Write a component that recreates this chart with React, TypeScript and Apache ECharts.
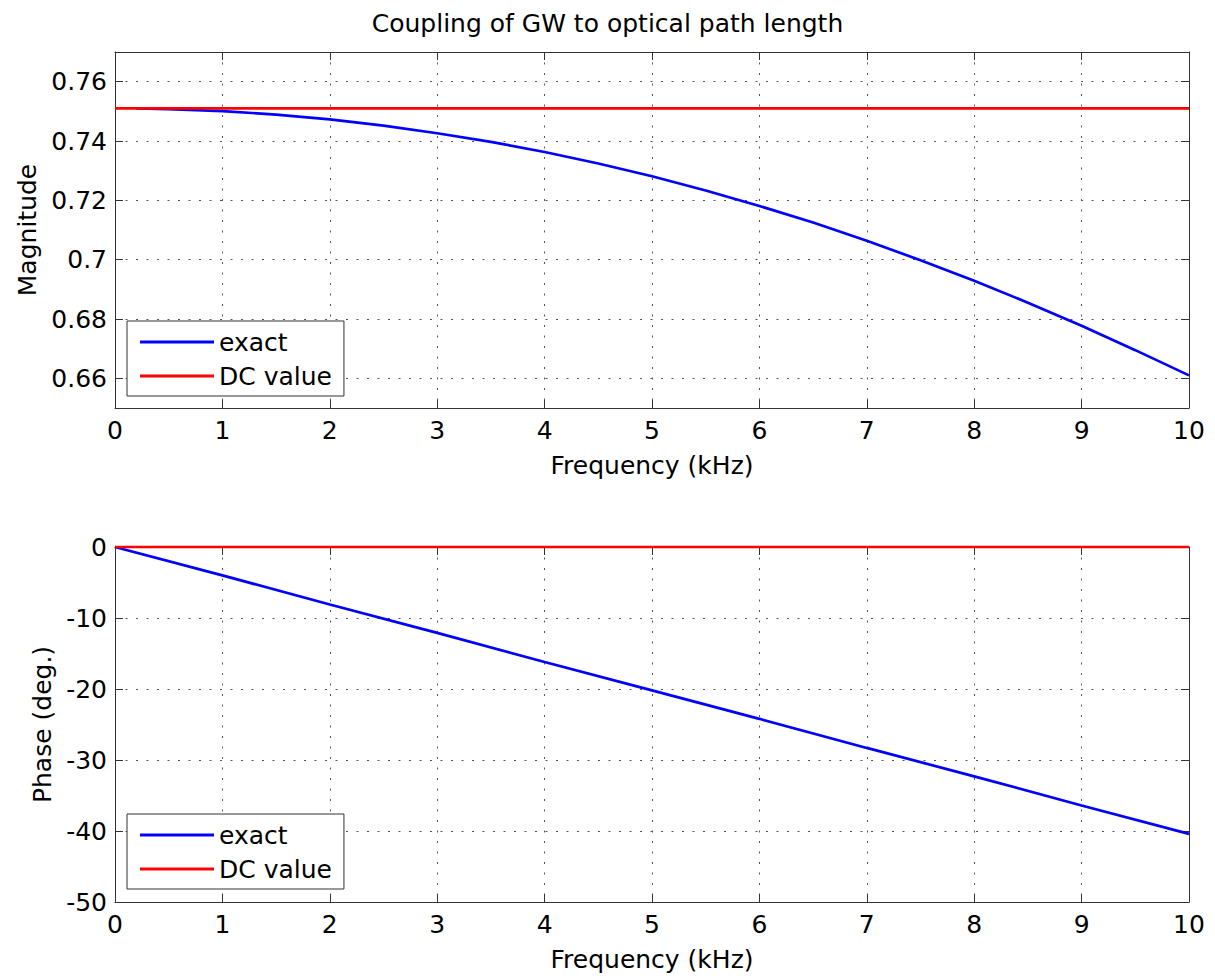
import React, { useEffect, useRef } from 'react';
import * as echarts from 'echarts';

const FONT = 'DejaVu Sans';

const titleText = 'Coupling of GW to optical path length';
const freqLabel = 'Frequency (kHz)';
const magLabel = 'Magnitude';
const phaseLabel = 'Phase (deg.)';
const exactName = 'exact';
const dcName = 'DC value';

// Tick positions
const magTicks = [0.66, 0.68, 0.7, 0.72, 0.74, 0.76];
const phaseTicks = [-50, -40, -30, -20, -10, 0];

// Magnitude of the coupling (exact), sampled in kHz
const magFreq = [0.2, 0.5, 1, 1.5, 2, 2.5, 3, 3.5, 4, 4.5, 5, 5.5, 6, 6.5, 7, 7.5, 8, 8.5, 9, 9.5, 10];
const magExact = [
  0.751, 0.7507, 0.7501, 0.7489, 0.7473, 0.7452, 0.7426, 0.7397, 0.7363, 0.7324, 0.7281,
  0.7233, 0.7181, 0.7125, 0.7064, 0.6998, 0.6929, 0.6855, 0.6777, 0.6695, 0.661,
];

// DC value of the magnitude
const dcFreq = [0, 10];
const magDC = [0.751, 0.751];

// Phase of the coupling (exact), degrees
const phaseFreq = [0, 1, 2, 3, 4, 5, 6, 7, 8, 9, 10];
const phaseExact = [0, -4.0, -8.1, -12.1, -16.2, -20.2, -24.2, -28.3, -32.3, -36.4, -40.4];
const phaseDC = [0, 0];

const pairs = (xs: number[], ys: number[]) => xs.map((x, i) => [x, ys[i]]);

const AXIS_COLOR = '#333';
const GRID_LINE = { show: true, lineStyle: { color: '#555', width: 1, type: [2, 8.5] as number[] } };

function xAxes(gridIndex: number) {
  const base = {
    type: 'value' as const,
    gridIndex,
    min: 0,
    max: 10,
    interval: 1,
    axisLine: { show: true, onZero: false, lineStyle: { color: AXIS_COLOR, width: 1 } },
    axisTick: { show: true, inside: true, length: 8, lineStyle: { color: AXIS_COLOR } },
  };
  return [
    {
      ...base,
      position: 'bottom' as const,
      name: freqLabel,
      nameLocation: 'middle' as const,
      nameGap: 45,
      nameTextStyle: { fontFamily: FONT, fontSize: 25, color: '#000' },
      axisLabel: { show: true, margin: 10, fontFamily: FONT, fontSize: 25, color: '#000' },
      splitLine: GRID_LINE,
    },
    {
      ...base,
      position: 'top' as const,
      axisLabel: { show: false },
      splitLine: { show: false },
    },
  ];
}

function App() {
  const ref = useRef<HTMLDivElement>(null);

  useEffect(() => {
    if (!ref.current) return;
    const chart = echarts.init(ref.current, undefined, { renderer: 'svg' });

    const yLabelStyle = { show: true, margin: 8, fontFamily: FONT, fontSize: 25, color: '#000' };
    const yLine = { show: true, onZero: false, lineStyle: { color: AXIS_COLOR, width: 1 } };
    const yTick = { show: true, inside: true, length: 8, lineStyle: { color: AXIS_COLOR } };

    const legendBase = {
      orient: 'vertical' as const,
      left: 127,
      data: [exactName, dcName],
      icon: 'rect',
      itemWidth: 74,
      itemHeight: 3,
      itemGap: 4,
      padding: [6, 12, 5, 13],
      backgroundColor: '#fff',
      borderColor: '#333',
      borderWidth: 1,
      borderRadius: 0,
      selectedMode: false,
      textStyle: { fontFamily: FONT, fontSize: 25, color: '#000', lineHeight: 30 },
    };

    const lineSeries = (name: string, color: string, data: number[][], xi: number, yi: number) => ({
      type: 'line' as const,
      name,
      data,
      xAxisIndex: xi,
      yAxisIndex: yi,
      symbol: 'none',
      showSymbol: false,
      smooth: false,
      clip: false,
      lineStyle: { color, width: 2.7 },
      itemStyle: { color },
    });

    chart.setOption({
      animation: false,
      backgroundColor: '#fff',
      textStyle: { fontFamily: FONT },
      title: {
        text: titleText,
        left: 'center',
        top: 6,
        textStyle: { fontFamily: FONT, fontSize: 25, fontWeight: 'normal', color: '#000' },
      },
      grid: [
        { left: 115, right: 26, top: 52, height: 356, containLabel: false, outerBoundsMode: 'none' },
        { left: 115, right: 26, top: 547, height: 355, containLabel: false, outerBoundsMode: 'none' },
      ],
      xAxis: [...xAxes(0), ...xAxes(1)],
      yAxis: [
        {
          type: 'value',
          gridIndex: 0,
          position: 'left',
          min: 0.65,
          max: 0.77,
          name: magLabel,
          nameLocation: 'middle',
          nameGap: 74,
          nameTextStyle: { fontFamily: FONT, fontSize: 25, color: '#000' },
          axisLine: yLine,
          axisTick: { ...yTick, customValues: magTicks },
          axisLabel: { ...yLabelStyle, customValues: magTicks },
          splitLine: GRID_LINE,
        },
        {
          type: 'value',
          gridIndex: 0,
          position: 'right',
          min: 0.65,
          max: 0.77,
          axisLine: yLine,
          axisTick: { ...yTick, customValues: magTicks },
          axisLabel: { show: false },
          splitLine: { show: false },
        },
        {
          type: 'value',
          gridIndex: 1,
          position: 'left',
          min: -50,
          max: 0,
          interval: 10,
          name: phaseLabel,
          nameLocation: 'middle',
          nameGap: 60,
          nameTextStyle: { fontFamily: FONT, fontSize: 25, color: '#000' },
          axisLine: yLine,
          axisTick: { ...yTick, customValues: phaseTicks },
          axisLabel: { ...yLabelStyle, customValues: phaseTicks },
          splitLine: GRID_LINE,
        },
        {
          type: 'value',
          gridIndex: 1,
          position: 'right',
          min: -50,
          max: 0,
          interval: 10,
          axisLine: yLine,
          axisTick: { ...yTick, customValues: phaseTicks },
          axisLabel: { show: false },
          splitLine: { show: false },
        },
      ],
      legend: [
        { ...legendBase, top: 321 },
        { ...legendBase, top: 814 },
      ],
      series: [
        lineSeries(exactName, '#0000ff', pairs(magFreq, magExact), 0, 0),
        lineSeries(dcName, '#ff0000', pairs(dcFreq, magDC), 0, 0),
        lineSeries(exactName, '#0000ff', pairs(phaseFreq, phaseExact), 2, 2),
        lineSeries(dcName, '#ff0000', pairs(dcFreq, phaseDC), 2, 2),
      ],
    });

    return () => chart.dispose();
  }, []);

  return (
    <div
      ref={ref}
      style={{ position: 'fixed', left: 0, top: 0, width: 1215, height: 978, background: '#fff' }}
    />
  );
}

export default App;
